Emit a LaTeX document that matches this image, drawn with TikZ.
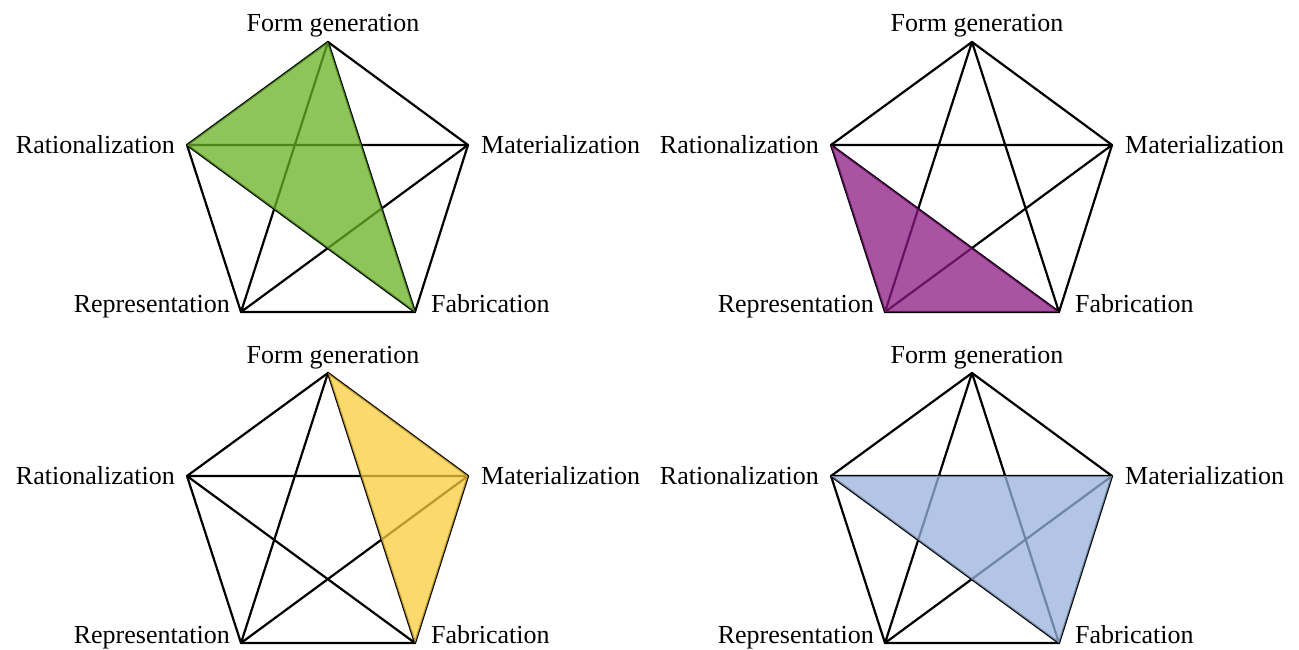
\documentclass[tikz,border=0pt]{standalone}
\usepackage{fontspec}
\setmainfont{Liberation Serif}
\usepackage{xcolor}
\usetikzlibrary{positioning}

\definecolor{fgreen}{RGB}{104,178,36}
\definecolor{fpurple}{RGB}{140,25,132}
\definecolor{fyellow}{RGB}{251,204,60}
\definecolor{fblue}{RGB}{152,178,220}

\tikzset{
  edge/.style={line width=2.2pt, line join=round, line cap=round},
  lbl/.style={font=\fontsize{26}{30}\selectfont, inner sep=0pt},
  shade/.style={fill opacity=0.75},
}

\begin{document}
\begin{tikzpicture}[x=1pt, y=1pt]
    \useasboundingbox (0,0) rectangle (1299,-650);

    % four pentagons: name / offset / colour / two corners of the triangle (third is fab)
    \foreach \p/\ox/\oy/\col/\ta/\tb in {tl/0/0/fgreen/form/rat, tr/644/0/fpurple/rat/rep,
                                          bl/0/-331/fyellow/form/mat, br/644/-331/fblue/rat/mat}{
        \begin{scope}[shift={(\ox,\oy)}]
            \coordinate (\p-form) at (328,-42);
            \coordinate (\p-rat)  at (187,-145);
            \coordinate (\p-mat)  at (468,-145);
            \coordinate (\p-rep)  at (241,-312);
            \coordinate (\p-fab)  at (415,-312);
        \end{scope}

        % outline and diagonals
        \draw[edge] (\p-form) -- (\p-mat) -- (\p-fab) -- (\p-rep) -- (\p-rat) -- cycle;
        \draw[edge] (\p-form) -- (\p-rep) (\p-form) -- (\p-fab)
                    (\p-rat) -- (\p-mat) (\p-rat) -- (\p-fab) (\p-mat) -- (\p-rep);

        % highlighted triangle
        \fill[\col, shade] (\p-\ta) -- (\p-\tb) -- (\p-fab) -- cycle;

        % labels
        \node[lbl, anchor=base] (\p-formlbl) at ([xshift=5pt, yshift=10pt]\p-form) {Form generation};
        \node[lbl, anchor=east] (\p-ratlbl) at ([xshift=-12pt]\p-rat) {Rationalization};
        \node[lbl, anchor=west] (\p-matlbl) at ([xshift=13pt]\p-mat) {Materialization};
        \node[lbl, anchor=base east] (\p-replbl) at ([xshift=-11pt]\p-rep) {Representation};
        \node[lbl, anchor=base west] (\p-fablbl) at ([xshift=16pt]\p-fab) {Fabrication};
    }
\end{tikzpicture}
\end{document}
